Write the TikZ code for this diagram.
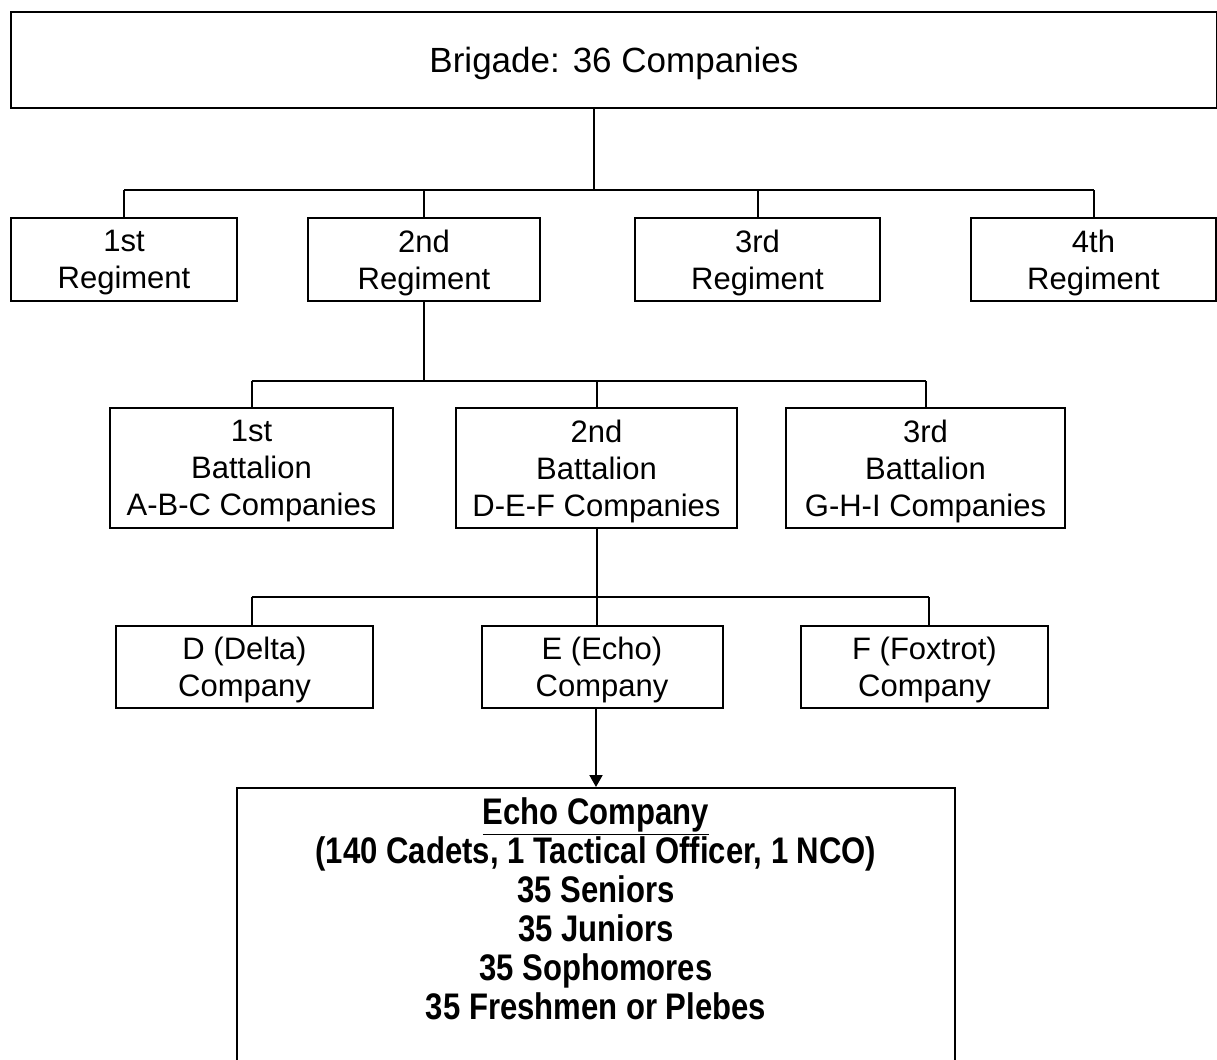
\documentclass[tikz,border=0pt]{standalone}
\usepackage{fontspec}
\setmainfont{Liberation Sans}
\newfontfamily\echofont[FakeStretch=0.84]{Liberation Sans}
\usetikzlibrary{arrows.meta}

\begin{document}
\begin{tikzpicture}[x=0.5pt, y=-0.5pt,
  box/.style={draw, line width=1pt, align=center, inner sep=0pt, text depth=0pt, font=\fontsize{15.5}{18.5}\selectfont},
  conn/.style={line width=1pt},
  arr/.style={-{Triangle[length=6pt, width=6.5pt]}, line width=1pt}
]
\useasboundingbox (0,0) rectangle (1217,1060);
% top level
\node[box, minimum width=603pt, minimum height=48pt, font=\fontsize{17.5}{21}\selectfont] (brigade) at (614,60) {Brigade: 36 Companies};
% regiments
\node[box, minimum width=113pt, minimum height=41.5pt] (reg1) at (124,259.5) {1st\\Regiment};
\node[box, minimum width=116pt, minimum height=41.5pt] (reg2) at (424,259.5) {2nd\\Regiment};
\node[box, minimum width=122.5pt, minimum height=41.5pt] (reg3) at (757.5,259.5) {3rd\\Regiment};
\node[box, minimum width=122.5pt, minimum height=41.5pt] (reg4) at (1093.5,259.5) {4th\\Regiment};
% battalions
\node[box, minimum width=141.5pt, minimum height=60pt] (bat1) at (251.5,468) {1st\\Battalion\\A-B-C Companies};
\node[box, minimum width=140.5pt, minimum height=60pt] (bat2) at (596.5,468) {2nd\\Battalion\\D-E-F Companies};
\node[box, minimum width=139.5pt, minimum height=60pt] (bat3) at (925.5,468) {3rd\\Battalion\\G-H-I Companies};
% companies
\node[box, minimum width=128.5pt, minimum height=41pt] (cD) at (244.5,667) {D (Delta)\\Company};
\node[box, minimum width=120.5pt, minimum height=41pt] (cE) at (602,667) {E (Echo)\\Company};
\node[box, minimum width=123.5pt, minimum height=41pt] (cF) at (924.5,667) {F (Foxtrot)\\Company};
% echo company
\node[box, minimum width=359pt, minimum height=146pt] (echo) at (596,934) {};
\node[anchor=north, inner sep=0pt, align=center, font={\echofont\bfseries\fontsize{18.5}{19.5}\selectfont}] (echotext) at ([yshift=-5pt]echo.north) {\underline{Echo Company}\\(140 Cadets, 1 Tactical Officer, 1 NCO)\\35 Seniors\\35 Juniors\\35 Sophomores\\35 Freshmen or Plebes};

% connectors
\coordinate (rjoin) at (594,190);
\draw[conn] (brigade.south -| rjoin) -- (rjoin);
\draw[conn] (reg1.north |- rjoin) -- (reg4.north |- rjoin);
\foreach \r in {reg1,reg2,reg3,reg4}
  \draw[conn] (\r.north |- rjoin) -- (\r.north);

\coordinate (bjoin) at (424,381);
\draw[conn] (reg2.south) -- (reg2.south |- bjoin);
\draw[conn] (bat1.north |- bjoin) -- (bat3.north |- bjoin);
\foreach \b in {bat1,bat2,bat3}
  \draw[conn] (\b.north |- bjoin) -- (\b.north);

\coordinate (cjoin) at (597,597);
\draw[conn] (bat2.south) -- (bat2.south |- cE.north);
\draw[conn] ([xshift=3.5pt]cD.north |- cjoin) -- ([xshift=2pt]cF.north |- cjoin);
\draw[conn] ([xshift=3.5pt]cD.north |- cjoin) -- ([xshift=3.5pt]cD.north);
\draw[conn] ([xshift=2pt]cF.north |- cjoin) -- ([xshift=2pt]cF.north);

\draw[arr] (cE.south -| echo.north) -- (echo.north);
\end{tikzpicture}
\end{document}
